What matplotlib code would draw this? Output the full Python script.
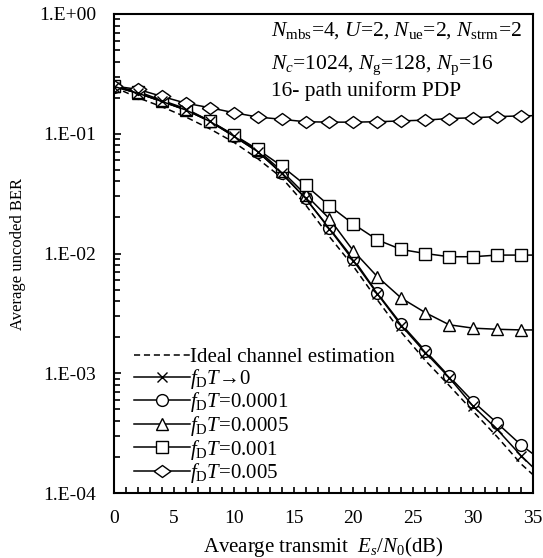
import math

import matplotlib
matplotlib.use('Agg')
import matplotlib.pyplot as plt
from matplotlib.ticker import FixedLocator, MultipleLocator, FuncFormatter, NullFormatter

plt.rcParams['font.family'] = ['Liberation Serif', 'DejaVu Serif']
plt.rcParams['mathtext.fontset'] = 'custom'
plt.rcParams['mathtext.rm'] = 'Liberation Serif'
plt.rcParams['mathtext.it'] = 'Liberation Serif:italic'

# Es/N0 (dB); the last point (35) is only the line end at the right edge
snr = [0, 2, 4, 6, 8, 10, 12, 14, 16, 18, 20, 22, 24, 26, 28, 30, 32, 34, 35]

ber_ideal = [0.245, 0.2, 0.168, 0.138, 0.11, 0.085, 0.062, 0.043, 0.0255, 0.0138,
             0.0078, 0.0041, 0.0022, 0.00128, 0.00079, 0.00048, 0.000295, 0.000175, 0.000142]
ber_fd0 = [0.248, 0.218, 0.186, 0.158, 0.127, 0.0955, 0.071, 0.0468, 0.0289, 0.016,
           0.0087, 0.0046, 0.0025, 0.00149, 0.00092, 0.00053, 0.00034, 0.000205, 0.000164]
ber_fd0001 = [0.248, 0.218, 0.186, 0.158, 0.127, 0.0955, 0.071, 0.0468, 0.0289, 0.0162,
              0.009, 0.00466, 0.00257, 0.00154, 0.00094, 0.00058, 0.000384, 0.000252, 0.000212]
ber_fd0005 = [0.249, 0.219, 0.187, 0.159, 0.128, 0.097, 0.073, 0.049, 0.031, 0.0195,
              0.0105, 0.0064, 0.00424, 0.00321, 0.00254, 0.00238, 0.00233, 0.0023, 0.0023]
ber_fd001 = [0.25, 0.225, 0.19, 0.162, 0.128, 0.098, 0.074, 0.0538, 0.0372, 0.025,
             0.0176, 0.013, 0.0108, 0.01, 0.0094, 0.0094, 0.0097, 0.0097, 0.0097]
ber_fd005 = [0.25, 0.235, 0.205, 0.18, 0.165, 0.15, 0.138, 0.132, 0.126, 0.125,
             0.125, 0.126, 0.128, 0.130, 0.134, 0.136, 0.139, 0.141, 0.1416]

labels = ['Ideal channel estimation',
          r'$f_{\rm D}T$' + '\u21920',
          r'$f_{\rm D}T$=0.0001',
          r'$f_{\rm D}T$=0.0005',
          r'$f_{\rm D}T$=0.001',
          r'$f_{\rm D}T$=0.005']

diamond = [(-1, 0), (0, 0.72), (1, 0), (0, -0.72), (-1, 0)]


def fmt_tick(v, pos):
    e = int(round(math.log10(v)))
    return '1.E%s%02d' % ('+' if e >= 0 else '-', abs(e))


fig = plt.figure(figsize=(5.43, 5.58), dpi=100)
ax = fig.add_axes([114 / 543, 1 - 493 / 558, 419 / 543, 479 / 558])

pts = list(range(len(snr) - 1))
lw = 1.1
h_ideal, = ax.plot(snr, ber_ideal, color='black', lw=lw, ls=(0, (4, 2.5)))
h1, = ax.plot(snr, ber_fd0001, color='black', lw=lw, marker='o', ms=8.5,
              mfc='white', mec='black', mew=1.0, markevery=pts)
h2, = ax.plot(snr, ber_fd0005, color='black', lw=lw, marker='^', ms=9,
              mfc='white', mec='black', mew=1.0, markevery=pts)
h3, = ax.plot(snr, ber_fd001, color='black', lw=lw, marker='s', ms=8,
              mfc='white', mec='black', mew=1.0, markevery=pts)
h4, = ax.plot(snr, ber_fd005, color='black', lw=lw, marker=diamond, ms=12,
              mfc='white', mec='black', mew=1.0, markevery=pts)
h0, = ax.plot(snr, ber_fd0, color='black', lw=lw, marker='x', ms=7,
              mec='black', mew=1.0, markevery=pts)

ax.set_yscale('log')
ax.set_xlim(0, 35)
ax.set_ylim(1e-4, 1)
ax.xaxis.set_major_locator(MultipleLocator(5))
ax.xaxis.set_minor_locator(MultipleLocator(1))
ax.yaxis.set_major_locator(FixedLocator([1e-4, 1e-3, 1e-2, 1e-1, 1]))
ax.yaxis.set_major_formatter(FuncFormatter(fmt_tick))
ax.yaxis.set_minor_formatter(NullFormatter())

ax.tick_params(axis='both', which='both', direction='in', labelsize=14,
               top=False, right=False)
ax.tick_params(axis='x', which='both', length=4, width=1.2, pad=12)
ax.tick_params(axis='y', which='major', length=5, width=1.2, pad=13)
ax.tick_params(axis='y', which='minor', length=4, width=1.2)
for s in ax.spines.values():
    s.set_linewidth(1.5)

ax.set_xlabel(r'Avearge transmit  $E_s$/$N_{\rm 0}$(dB)', fontsize=15, labelpad=6)
ax.set_ylabel('Average uncoded BER', fontsize=12, labelpad=9)

ax.text(0.375, 0.955, r'$N_{\rm mbs}$=4, $U$=2, $N_{\rm ue}$=2, $N_{\rm strm}$=2',
        transform=ax.transAxes, fontsize=15.5, va='baseline')
ax.text(0.375, 0.885, r'$N_c$=1024, $N_{\rm g}$=128, $N_{\rm p}$=16',
        transform=ax.transAxes, fontsize=15.5, va='baseline')
ax.text(0.375, 0.828, '16- path uniform PDP',
        transform=ax.transAxes, fontsize=15.5, va='baseline')

ax.legend([h_ideal, h0, h1, h2, h3, h4], labels, loc='lower left',
          bbox_to_anchor=(0.043, 0.012), frameon=False, fontsize=15,
          handlelength=2.7, handletextpad=0.0, labelspacing=-0.02,
          borderpad=0, borderaxespad=0.1)

fig.savefig('out.png', dpi=100)
